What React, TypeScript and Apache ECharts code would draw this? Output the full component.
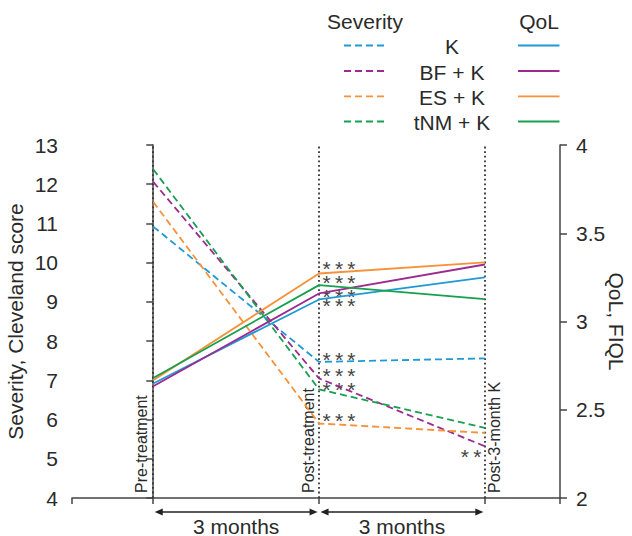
import React, { useEffect, useRef } from "react";
import * as echarts from "echarts";

// ---- data ----
const timepoints = [0, 3, 6];
const timeLabels = ["Pre-treatment", "Post-treatment", "Post-3-month K"];
const groups = ["K", "BF + K", "ES + K", "tNM + K"];
const colors = ["#1f9ad6", "#9c2a8f", "#f5923a", "#17a04f"];

// Severity (Cleveland score), left axis
const severityK = [10.92, 7.47, 7.56];
const severityBF = [12.06, 7.05, 5.32];
const severityES = [11.55, 5.9, 5.66];
const severityTNM = [12.38, 6.77, 5.79];

// QoL (FIQL), right axis
const qolK = [2.649, 3.125, 3.25];
const qolBF = [2.633, 3.159, 3.323];
const qolES = [2.667, 3.272, 3.335];
const qolTNM = [2.68, 3.206, 3.127];

const severityTicks = { min: 4, max: 13, interval: 1 };
const qolTicks = { min: 2, max: 4, interval: 0.5 };
const xRange = { min: -1.47, max: 7.36 };

// significance annotations: [time, value, axisIndex, text, side]
const annotations: [number, number, number, string, string][] = [
  [3, 3.323, 1, "***", "right"],
  [3, 3.244, 1, "***", "right"],
  [3, 3.168, 1, "***", "right"],
  [3, 3.115, 1, "***", "right"],
  [3, 7.64, 0, "***", "right"],
  [3, 7.23, 0, "***", "right"],
  [3, 6.88, 0, "***", "right"],
  [3, 6.09, 0, "***", "right"],
  [6, 5.17, 0, "**", "left"],
];

const periodLabel = "3 months";

const FONT = '"Liberation Sans", Arial, Helvetica, sans-serif';
const TEXT = "#2a2a2a";
const AXIS = "#444";

const severitySeries = [severityK, severityBF, severityES, severityTNM];
const qolSeries = [qolK, qolBF, qolES, qolTNM];

export default function App() {
  const ref = useRef<HTMLDivElement>(null);
  useEffect(() => {
    document.body.style.margin = "0";
    const chart = echarts.init(ref.current!, null, { renderer: "svg" });
    const axisLine = { show: true, lineStyle: { color: AXIS, width: 1.5 } };
    const series: any[] = [];
    severitySeries.forEach((vals, i) => {
      series.push({
        name: "Severity " + groups[i],
        type: "line",
        yAxisIndex: 0,
        symbol: "none",
        data: timepoints.map((t, j) => [t, vals[j]]),
        lineStyle: { color: colors[i], width: 1.8, type: [7, 4] },
        z: 3,
      });
    });
    qolSeries.forEach((vals, i) => {
      series.push({
        name: "QoL " + groups[i],
        type: "line",
        yAxisIndex: 1,
        symbol: "none",
        data: timepoints.map((t, j) => [t, vals[j]]),
        lineStyle: { color: colors[i], width: 1.8 },
        z: 3,
      });
    });
    series[0].markLine = {
      silent: true,
      symbol: ["none", "none"],
      label: { show: false },
      lineStyle: { color: "#333", width: 1.8, type: [1.8, 2.8] },
      data: timepoints.map((t) => ({ xAxis: t })),
      z: 1,
    };

    chart.setOption({
      animation: false,
      textStyle: { fontFamily: FONT },
      grid: { left: 72, right: 72, top: 145, bottom: 38, containLabel: false, outerBoundsMode: "none" },
      xAxis: {
        type: "value",
        min: xRange.min,
        max: xRange.max,
        axisLine: { ...axisLine, onZero: false },
        axisTick: {
          show: true,
          length: 6,
          customValues: [xRange.min, ...timepoints, xRange.max],
          lineStyle: { color: AXIS, width: 1.5 },
        },
        axisLabel: { show: false },
        splitLine: { show: false },
      },
      yAxis: [
        {
          type: "value",
          position: "left",
          ...severityTicks,
          name: "Severity, Cleveland score",
          nameLocation: "middle",
          nameRotate: 90,
          nameGap: 46,
          nameMoveOverlap: false,
          nameTextStyle: { fontSize: 21, color: TEXT, fontFamily: FONT },
          axisLine,
          axisTick: { show: true, length: 7, lineStyle: { color: AXIS, width: 1.5 } },
          axisLabel: { margin: 14, fontSize: 21, color: TEXT, fontFamily: FONT },
          splitLine: { show: false },
        },
        {
          type: "value",
          position: "right",
          ...qolTicks,
          name: "QoL, FIQL",
          nameLocation: "middle",
          nameRotate: -90,
          nameGap: 46,
          nameMoveOverlap: false,
          nameTextStyle: { fontSize: 21, color: TEXT, fontFamily: FONT },
          axisLine,
          axisTick: { show: true, length: 7, lineStyle: { color: AXIS, width: 1.5 } },
          axisLabel: { margin: 16, fontSize: 21, color: TEXT, fontFamily: FONT },
          splitLine: { show: false },
        },
      ],
      series,
    });

    const px = (x: number, y: number, yi = 0) =>
      chart.convertToPixel({ xAxisIndex: 0, yAxisIndex: yi }, [x, y]) as number[];

    const g: any[] = [];
    // time labels (rotated)
    const labelOffsets = [-11.5, -10.5, 10];
    timepoints.forEach((t, i) => {
      const [x, y] = px(t, severityTicks.min);
      g.push({
        type: "text",
        x: x + labelOffsets[i],
        y: y - 5,
        rotation: Math.PI / 2,
        style: {
          text: timeLabels[i],
          font: `16px ${FONT}`,
          fill: TEXT,
          textAlign: "left",
          textVerticalAlign: "middle",
        },
      });
    });
    // annotations
    annotations.forEach(([t, v, ai, txt, side]) => {
      const [x, y] = px(t, v, ai);
      g.push({
        type: "text",
        x: side === "right" ? x + 3.5 : x - 3.5,
        y: y + 4.3,
        style: {
          text: txt.split("").join("\u2009"),
          font: `21px ${FONT}`,
          fill: "#444",
          textAlign: side === "right" ? "left" : "right",
          textVerticalAlign: "middle",
        },
      });
    });
    // period arrows
    const arrowY = 512;
    for (let k = 0; k < timepoints.length - 1; k++) {
      const x0 = px(timepoints[k], severityTicks.min)[0] + 1.5;
      const x1 = px(timepoints[k + 1], severityTicks.min)[0] - 1.5;
      g.push({
        type: "line",
        shape: { x1: x0 + 4, y1: arrowY, x2: x1 - 4, y2: arrowY },
        style: { stroke: "#222", lineWidth: 1.5 },
      });
      g.push({
        type: "polygon",
        shape: { points: [[x0, arrowY], [x0 + 8, arrowY - 3.5], [x0 + 8, arrowY + 3.5]] },
        style: { fill: "#222" },
      });
      g.push({
        type: "polygon",
        shape: { points: [[x1, arrowY], [x1 - 8, arrowY - 3.5], [x1 - 8, arrowY + 3.5]] },
        style: { fill: "#222" },
      });
      g.push({
        type: "text",
        x: (x0 + x1) / 2,
        y: 526,
        style: {
          text: periodLabel,
          font: `21px ${FONT}`,
          fill: TEXT,
          textAlign: "center",
          textVerticalAlign: "middle",
        },
      });
    }
    // legend
    g.push({
      type: "text",
      x: 365,
      y: 21,
      style: { text: "Severity", font: `21px ${FONT}`, fill: TEXT, textAlign: "center", textVerticalAlign: "middle" },
    });
    g.push({
      type: "text",
      x: 539,
      y: 21,
      style: { text: "QoL", font: `21px ${FONT}`, fill: TEXT, textAlign: "center", textVerticalAlign: "middle" },
    });
    const rowY = [45.5, 71, 96.3, 121.5];
    groups.forEach((name, i) => {
      const y = rowY[i];
      g.push({
        type: "line",
        shape: { x1: 344, y1: y, x2: 387, y2: y },
        style: { stroke: colors[i], lineWidth: 1.8, lineDash: [7, 4] },
      });
      g.push({
        type: "line",
        shape: { x1: 518, y1: y, x2: 559.5, y2: y },
        style: { stroke: colors[i], lineWidth: 1.8 },
      });
      g.push({
        type: "text",
        x: 452,
        y: y + 1,
        style: { text: name, font: `21px ${FONT}`, fill: TEXT, textAlign: "center", textVerticalAlign: "middle" },
      });
    });
    chart.setOption({ graphic: g });
    return () => chart.dispose();
  }, []);
  return <div ref={ref} style={{ width: 632, height: 536 }} />;
}
